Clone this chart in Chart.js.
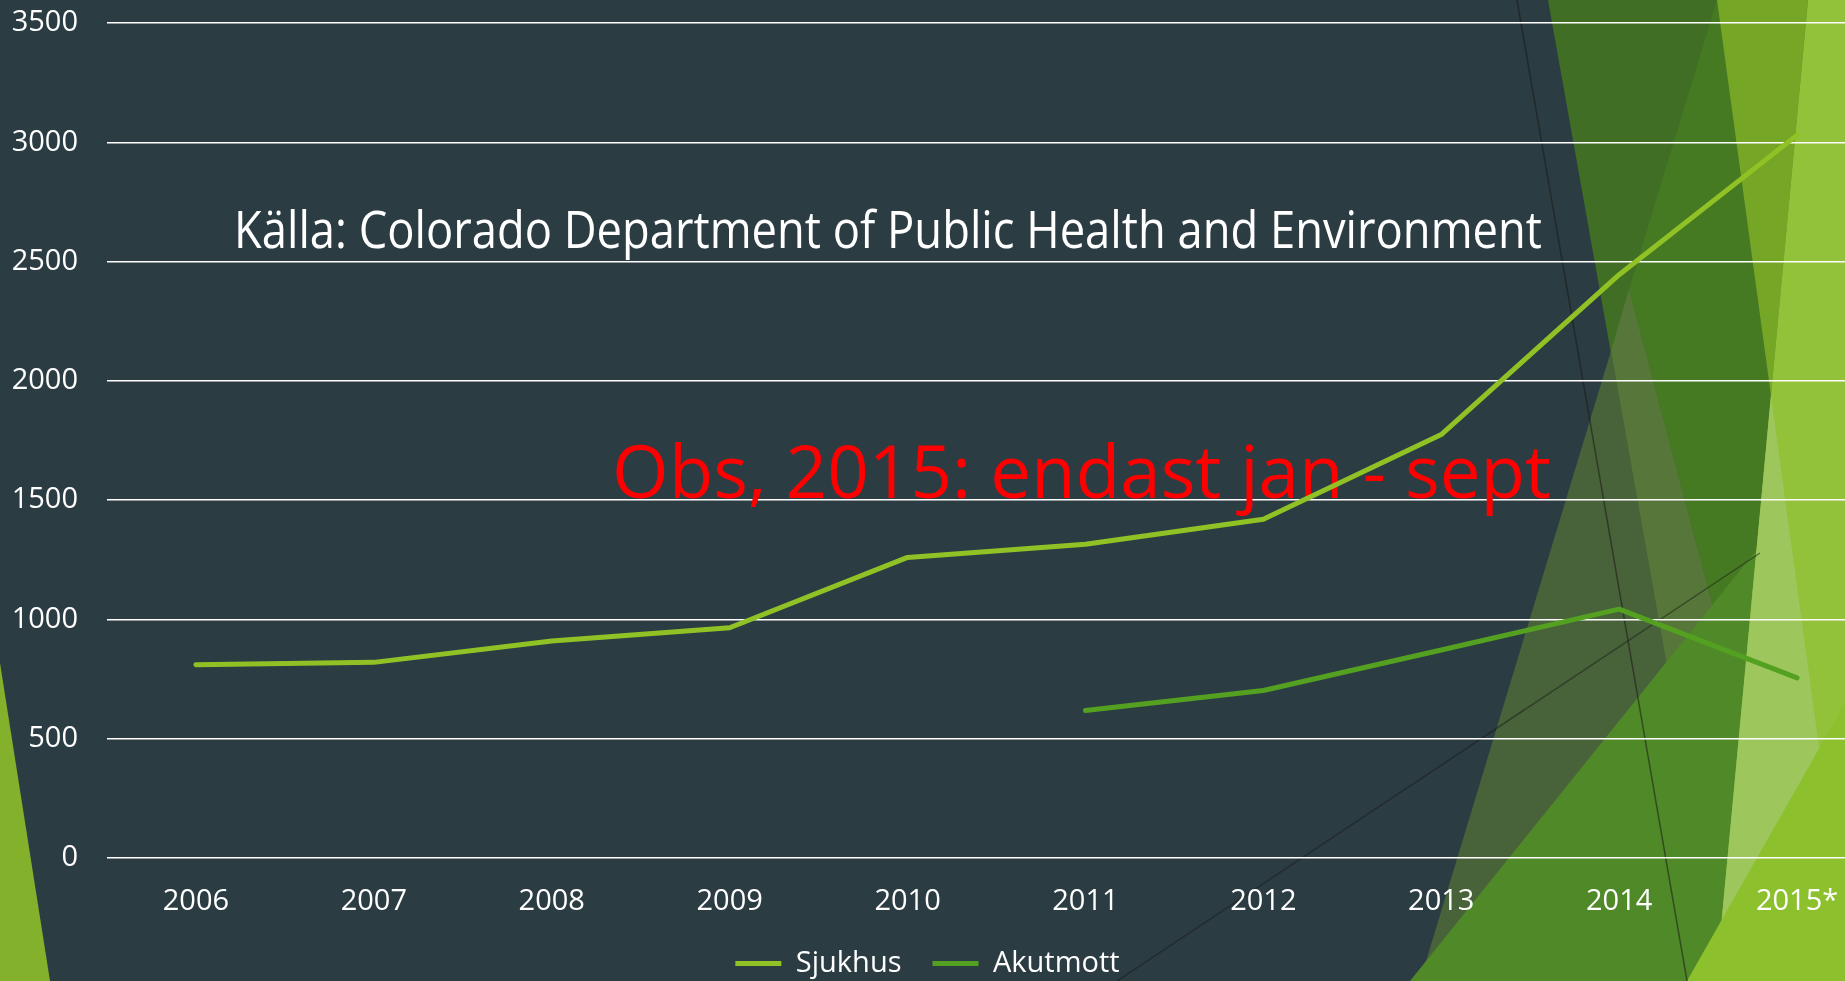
<!DOCTYPE html>
<html>
<head>
<meta charset="utf-8">
<script src="https://cdn.jsdelivr.net/npm/chart.js@4.4.1/dist/chart.umd.min.js"></script>
<style>
  html, body { margin: 0; padding: 0; width: 1845px; height: 981px; overflow: hidden; background: #2C3C43; }
  #decor { position: absolute; left: 0; top: 0; }
  #wrap { position: absolute; left: -31px; top: 0; width: 1917px; height: 988px; }
</style>
</head>
<body>
<!-- slide theme facets behind the chart -->
<svg id="decor" width="1845" height="981">
  <polygon points="0,663 50,981 0,981" fill="#83B12B"/>
  <polygon points="1548,0 1845,0 1845,981 1723,981" fill="#3F6E24"/>
  <polygon points="1611,351 1420,981 1723,981" fill="#48633A"/>
  <polygon points="1629,289 1611,351 1723,981 1812,981" fill="#57763A"/>
  <polygon points="1629,289 1717,0 1771,396 1741,712" fill="#457A23"/>
  <polygon points="1717,0 1808,0 1771,396" fill="#76A626"/>
  <polygon points="1410,981 1845,440 1845,981" fill="#508A28"/>
  <polygon points="1808,0 1845,0 1845,981 1716,981" fill="#92C13A"/>
  <polygon points="1771,396 1716,981 1851,981" fill="#9DC65D"/>
  <polygon points="1687,981 1845,703 1845,981" fill="#8DC02D"/>
  <line x1="1517" y1="0" x2="1687" y2="981" stroke="rgba(25,25,20,0.55)" stroke-width="1.5"/>
  <line x1="1117" y1="981" x2="1760" y2="553" stroke="rgba(25,25,20,0.5)" stroke-width="1.5"/>
</svg>
<div id="wrap"><canvas id="chart" width="1917" height="988"></canvas></div>
<script>
const years = ['2006', '2007', '2008', '2009', '2010', '2011', '2012', '2013', '2014', '2015*'];
const sjukhus = [810, 820, 910, 965, 1260, 1315, 1420, 1775, 2445, 3030];
const akutmott = [null, null, null, null, null, 618, 702, 872, 1043, 755];
const yTicks = [0, 500, 1000, 1500, 2000, 2500, 3000, 3500];
const sourceNote = 'Källa: Colorado Department of Public Health and Environment';
const periodNote = 'Obs, 2015: endast jan - sept';

const FONT = '"Open Sans", "DejaVu Sans", sans-serif';

// text squeezed to the width it has on the slide
function drawNote(ctx, text, x, baseline, width, size, color) {
  ctx.save();
  ctx.font = size + 'px ' + FONT;
  ctx.fillStyle = color;
  ctx.textBaseline = 'alphabetic';
  const w = ctx.measureText(text).width;
  ctx.translate(x, baseline);
  ctx.scale(width / w, 1);
  ctx.fillText(text, 0, 0);
  ctx.restore();
}

const notesPlugin = {
  id: 'notes',
  beforeDatasetsDraw(chart) {
    drawNote(chart.ctx, sourceNote, 265, 248, 1308, 51, '#FFFFFF');
    drawNote(chart.ctx, periodNote, 643, 498, 939, 74, '#FF0000');
  }
};

const ctx = document.getElementById('chart').getContext('2d');

new Chart(ctx, {
  type: 'line',
  data: {
    labels: years,
    datasets: [{
      label: 'Sjukhus',
      data: sjukhus,
      borderColor: '#90C226',
      backgroundColor: '#90C226',
      borderWidth: 5,
      borderCapStyle: 'round',
      borderJoinStyle: 'round',
      pointRadius: 0,
      tension: 0,
      fill: false
    }, {
      label: 'Akutmott',
      data: akutmott,
      borderColor: '#54A021',
      backgroundColor: '#54A021',
      borderWidth: 5,
      borderCapStyle: 'round',
      borderJoinStyle: 'round',
      pointRadius: 0,
      tension: 0,
      fill: false
    }]
  },
  options: {
    responsive: false,
    animation: false,
    devicePixelRatio: 1,
    layout: { padding: { top: 23, left: 0, right: 0, bottom: 0 } },
    plugins: {
      tooltip: { enabled: false },
      legend: {
        display: true,
        position: 'bottom',
        labels: {
          color: '#FFFFFF',
          font: { family: FONT, size: 29 },
          usePointStyle: true,
          pointStyle: 'line',
          pointStyleWidth: 46,
          padding: 31
        }
      }
    },
    scales: {
      x: {
        offset: true,
        grid: { display: false },
        border: { display: false },
        ticks: {
          color: '#FFFFFF',
          font: { family: FONT, size: 29 },
          padding: 18,
          maxRotation: 0,
          autoSkip: false
        },
        afterFit: s => { s.height = 60; }
      },
      y: {
        min: 0,
        max: 3500,
        grid: { color: '#FFFFFF', lineWidth: 1.5, drawTicks: false },
        border: { display: false },
        ticks: {
          color: '#FFFFFF',
          font: { family: FONT, size: 29 },
          padding: 29,
          callback: v => String(v)
        },
        afterBuildTicks: s => { s.ticks = yTicks.map(v => ({ value: v })); },
        afterFit: s => {
          s.width = 138;
          s.paddingTop = 0;
          s.paddingBottom = 0;
        }
      }
    }
  },
  plugins: [notesPlugin]
});
</script>
</body>
</html>
